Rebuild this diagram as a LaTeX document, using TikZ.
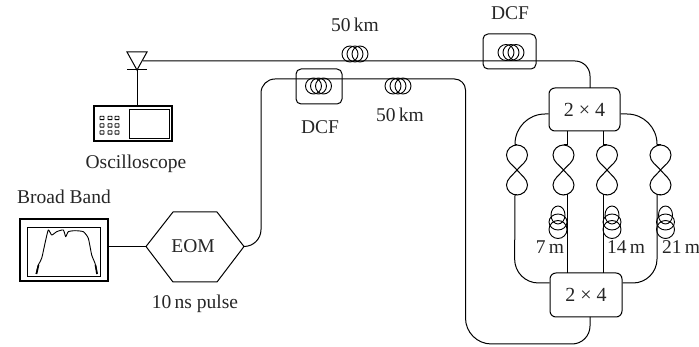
\documentclass[tikz,border=0pt]{standalone}
\usepackage{fontspec}
\setmainfont{Liberation Serif}
\begin{document}
\begin{tikzpicture}[x=1pt,y=-1pt,line width=1pt,
  lab/.style={inner sep=0pt,font=\fontsize{19.5}{22}\selectfont,text=black!85},
  dcfbox/.style={draw,rounded corners=5pt,inner sep=0pt},
  splitter/.style={draw,rounded corners=6pt,inner sep=0pt,fill=white,font=\fontsize{20}{22}\selectfont,text=black!85},
  thickbox/.style={draw,line width=2pt,inner sep=0pt},
  thinbox/.style={draw,line width=0.8pt,inner sep=0pt}]
\useasboundingbox (0,0) rectangle (699,347);
\newcommand{\hcoil}[2]{%
  \draw[line width=0.9pt] (#1-5,#2) ellipse (8 and 8);
  \draw[line width=0.9pt] (#1,#2) ellipse (8 and 8);
  \draw[line width=0.9pt] (#1+5,#2) ellipse (8 and 8);}
\newcommand{\vcoil}[2]{%
  \draw[line width=0.9pt] (#1,#2-7) ellipse (7 and 9);
  \draw[line width=0.9pt] (#1,#2) ellipse (9 and 8);
  \draw[line width=0.9pt] (#1,#2+7.5) ellipse (9 and 9);}
\newcommand{\eightloop}[1]{%
  \draw (#1,170) .. controls (#1+4,165) and (#1+10.5,162) .. (#1+10.5,155)
    .. controls (#1+10.5,149) and (#1+5,145) .. (#1,145)
    .. controls (#1-5,145) and (#1-10.5,149) .. (#1-10.5,155)
    .. controls (#1-10.5,162) and (#1-4,165) .. (#1,170)
    .. controls (#1+4,175) and (#1+10.5,179) .. (#1+10.5,185)
    .. controls (#1+10.5,191) and (#1+5,195) .. (#1,195)
    .. controls (#1-5,195) and (#1-10.5,191) .. (#1-10.5,185)
    .. controls (#1-10.5,179) and (#1-4,175) .. (#1,170);}
% detector
\coordinate (tl) at (127,52); \coordinate (tr) at (147,52); \coordinate (ta) at (137,70);
\coordinate (trc) at (143,61);
\draw (tl) -- (tr) -- (ta) -- cycle;
\coordinate (bl) at (127,70); \coordinate (br) at (147,70);
\draw (bl) -- (br);
% oscilloscope
\node[thickbox,minimum width=78pt,minimum height=35pt] (osc) at (132.5,124) {};
\node[thinbox,minimum width=40pt,minimum height=29pt] (scr) at (149,123.5) {};
\foreach \yy in {118,125.5,132.5}{
  \foreach \xx in {102,110,117}{
    \draw[line width=0.9pt,rounded corners=0.5pt] (\xx-2,\yy-1.7) rectangle (\xx+2,\yy+1.7);}}
\draw (ta) -- (ta |- osc.north);
\node[lab] (osclab) at (136,164) {Oscilloscope};
% source
\node[thickbox,minimum width=88pt,minimum height=62pt] (src) at (63.5,250.5) {};
\node[thinbox,minimum width=73pt,minimum height=49pt] (spec) at (63.5,251.5) {};
\draw[line width=0.9pt,line join=round] plot[smooth,tension=0.35] coordinates {(36,274) (38.3,265) (41.7,258.3) (45,243.3) (48.3,230) (51.7,235) (56.7,231.7) (63.3,230) (65.7,236.7) (68.3,231.7) (75,230.7) (83.3,231.7) (88.3,238.3) (91.7,255) (95,263.3) (97.3,274)};
\draw[line width=1.6pt] (36.5,274) -- (38.5,265);
\draw[line width=1.6pt] (97,274) -- (95.5,265);
\node[lab] (bblab) at (64,197) {Broad Band};
% EOM
\coordinate (el) at (146,246.5); \coordinate (er) at (244,246.5);
\coordinate (e1) at (173,212); \coordinate (e2) at (217,212);
\coordinate (e3) at (217,282); \coordinate (e4) at (173,282);
\draw (el) -- (e1) -- (e2) -- (er) -- (e3) -- (e4) -- cycle;
\node[lab] (eomlab) at (193,246.5) {EOM};
\node[lab] (pulselab) at (195,304) {10\,ns pulse};
\draw (src.east |- el) -- (el);
% splitters
\node[splitter,minimum width=71pt,minimum height=43pt] (s1) at (584.5,109.5) {2 × 4};
\node[splitter,minimum width=72pt,minimum height=44pt] (s2) at (586,295) {2 × 4};
% fibers
\coordinate (c1) at (261,79); \coordinate (c2) at (465.5,79); \coordinate (c3) at (465.5,344);
\coordinate (c4) at (590,344); \coordinate (c5) at (261,246.5); \coordinate (c6) at (590,61);
\draw (er) [rounded corners=17pt] -- (c5) [rounded corners=14pt] -- (c1) [rounded corners=11pt] -- (c2) [rounded corners=26pt] -- (c3) [rounded corners=18pt] -- (c4) -- (590,317);
\draw[rounded corners=15pt] (trc) -- (c6) -- (590,88);
% dcf boxes and coils
\node[dcfbox,minimum width=53pt,minimum height=35pt] (d1) at (509.5,51.5) {};
\node[dcfbox,minimum width=46pt,minimum height=35pt] (d2) at (319,86.5) {};
\hcoil{355}{54}\hcoil{511}{52.5}\hcoil{318.5}{86}\hcoil{398}{86}
\node[lab] (k1) at (355,25) {50\,km};
\node[lab] (k2) at (400,115) {50\,km};
\node[lab] (dl1) at (510,13) {DCF};
\node[lab] (dl2) at (320,127) {DCF};
% arms
\coordinate (a1) at (515,114); \coordinate (a2) at (657,114);
\coordinate (b1) at (514.5,283); \coordinate (b2) at (657,283);
\draw[rounded corners=30pt] (s1.west |- a1) -- (a1) -- (515,145);
\draw[rounded corners=30pt] (s1.east |- a2) -- (a2) -- (657,145);
\draw[rounded corners=24pt] (515,195) -- (b1) -- (s2.west |- b1);
\draw[rounded corners=24pt] (657,195) -- (b2) -- (s2.east |- b2);
\draw (567.5,131) -- (567.5,145);
\draw (603,131) -- (603,145);
\draw (567.5,195) -- (567.5,273);
\draw (603,195) -- (603,273);
\eightloop{517}
\eightloop{563.5}
\eightloop{607}
\eightloop{660.5}
\draw (515,145) -- (517,145);
\draw (563.5,145) -- (567.5,145);
\draw (603,145) -- (607,145);
\draw (657,145) -- (660.5,145);
\draw (515,195) -- (517,195);
\draw (563.5,195) -- (567.5,195);
\draw (603,195) -- (607,195);
\draw (657,195) -- (660.5,195);
\vcoil{558}{222}\vcoil{612}{222}\vcoil{665.5}{222}
\node[lab] (m1) at (550,247) {7\,m};
\node[lab] (m2) at (626,247) {14\,m};
\node[lab] (m3) at (681,247) {21\,m};
\end{tikzpicture}
\end{document}
